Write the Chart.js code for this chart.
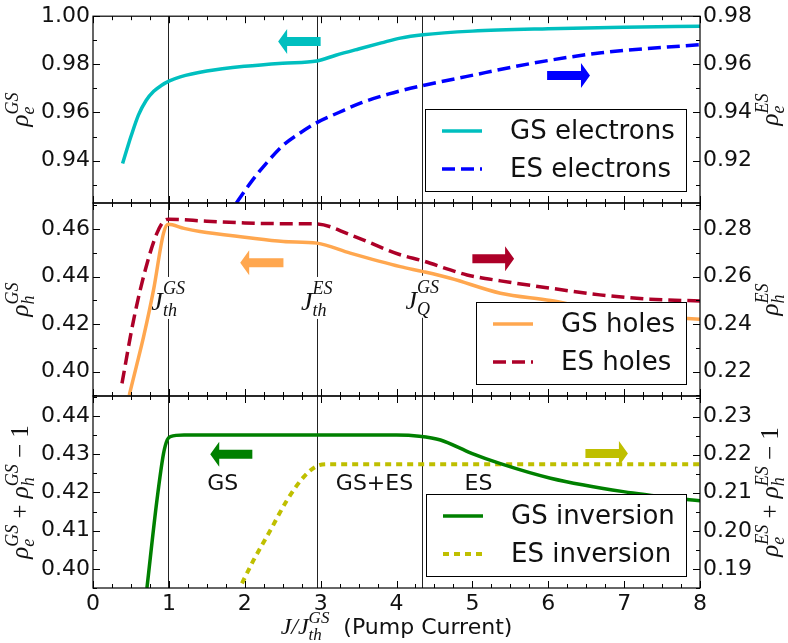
<!DOCTYPE html>
<html><head><meta charset="utf-8">
<script src="https://cdn.jsdelivr.net/npm/chart.js@4.4.1/dist/chart.umd.min.js"></script>
<style>
html,body{margin:0;padding:0;background:#fff;}
#wrap{position:relative;width:788px;height:643px;overflow:hidden;background:#fff;}
#wrap canvas{position:absolute;left:0;top:0;}
</style></head>
<body><div id="wrap">
<canvas id="cTop" width="788" height="643"></canvas>
<canvas id="cMid" width="788" height="643"></canvas>
<canvas id="cBot" width="788" height="643"></canvas>
</div>
<script>
// ---------------- DATA ----------------
const xTickValues = [0, 1, 2, 3, 4, 5, 6, 7, 8];
const thresholdX = [0.99, 2.95, 4.34];

const gsElectronsX = [0.39, 0.45, 0.5, 0.6, 0.7, 0.8, 0.9, 1.0, 1.15, 1.5, 2.0, 2.5, 2.95, 3.2, 3.5, 3.8, 4.05, 4.35, 5.0, 6.0, 7.0, 8.0];
const gsElectronsY = [0.9388, 0.9450, 0.9500, 0.9590, 0.9650, 0.9688, 0.9712, 0.9730, 0.9748, 0.9772, 0.9792, 0.9805, 0.9814, 0.9838, 0.9864, 0.9889, 0.9909, 0.9923, 0.9938, 0.9948, 0.9954, 0.9958];

const esElectronsX = [1.89, 2.1, 2.3, 2.5, 2.73, 2.95, 3.24, 3.54, 3.89, 4.05, 4.35, 4.93, 5.8, 6.7, 8.0];
const esElectronsY = [0.9024, 0.9118, 0.9195, 0.9262, 0.9315, 0.9358, 0.9400, 0.9441, 0.9476, 0.9490, 0.9512, 0.9550, 0.9605, 0.9648, 0.9682];

const gsHolesX = [0.478, 0.57, 0.667, 0.798, 0.93, 0.99, 1.2, 1.41, 2.0, 2.51, 2.95, 3.39, 4.05, 4.35, 4.71, 5.37, 6.03, 6.5, 7.0, 7.5, 8.0];
const gsHolesY = [0.3901, 0.4020, 0.4147, 0.4344, 0.4583, 0.4620, 0.4603, 0.4590, 0.4566, 0.4548, 0.4541, 0.4499, 0.4442, 0.4421, 0.4393, 0.4330, 0.4299, 0.4270, 0.4247, 0.4232, 0.4220];

const esHolesX = [0.382, 0.535, 0.689, 0.843, 0.953, 1.0, 1.5, 2.0, 2.5, 2.95, 3.39, 4.05, 4.35, 4.71, 4.93, 5.37, 6.03, 6.68, 7.34, 8.0];
const esHolesY = [0.2150, 0.2417, 0.2628, 0.2783, 0.2839, 0.2842, 0.2833, 0.2826, 0.2823, 0.2822, 0.2776, 0.2692, 0.2666, 0.2628, 0.2607, 0.2582, 0.2551, 0.2523, 0.2505, 0.2497];

const gsInversionX = [0.711, 0.843, 0.93, 0.98, 1.02, 1.2, 2.0, 3.0, 4.0, 4.3, 4.58, 4.99, 5.37, 6.03, 6.99, 8.0];
const gsInversionY = [0.3950, 0.4180, 0.4302, 0.4338, 0.4346, 0.4350, 0.4350, 0.4350, 0.4350, 0.4347, 0.4337, 0.4302, 0.4275, 0.4237, 0.4202, 0.4178];

const esInversionX = [1.963, 2.116, 2.336, 2.556, 2.775, 2.95, 3.1, 4.0, 6.0, 8.0];
const esInversionY = [0.1862, 0.1923, 0.2001, 0.2080, 0.2141, 0.2170, 0.2175, 0.2175, 0.2175, 0.2175];

const topLeftTicks = [0.94, 0.96, 0.98, 1.00];
const topRightTicks = [0.92, 0.94, 0.96, 0.98];
const midLeftTicks = [0.40, 0.42, 0.44, 0.46];
const midRightTicks = [0.22, 0.24, 0.26, 0.28];
const botLeftTicks = [0.40, 0.41, 0.42, 0.43, 0.44];
const botRightTicks = [0.19, 0.20, 0.21, 0.22, 0.23];

const seriesLabels = ['GS electrons', 'ES electrons', 'GS holes', 'ES holes', 'GS inversion', 'ES inversion'];
const regionLabels = ['GS', 'GS+ES', 'ES'];
const regionLabelX = [1.71, 3.71, 5.08];
const regionLabelY = 0.4222;

// ---------------- STYLE ----------------
const SANS = '"DejaVu Sans", sans-serif';
const SERIF = '"Liberation Serif", "DejaVu Serif", serif';
const TXT = '#111';
const C = {cyan:'#00bfbf', blue:'#0000ff', orange:'#ffa74f', crimson:'#ad0028', green:'#008000', olive:'#bfbf00'};
const W = 788, H = 643;

function pts(xs, ys) { return xs.map((x, i) => ({x: x, y: ys[i]})); }

// ---- simple math text layout (base + sub/sup) ----
function layoutMath(ctx, items, size) {
  let w = 0; const segs = [];
  const ss = Math.round(size * 0.7);
  for (const it of items) {
    const sz = it.sz || size;
    const f = it.sans ? (sz + 'px ' + SANS) : ((it.roman ? '' : 'italic ') + sz + 'px ' + SERIF);
    ctx.font = f;
    const bw = ctx.measureText(it.t).width;
    segs.push({text: it.t, font: f, x: w, dy: 0});
    w += bw;
    let sw = 0;
    const sf = 'italic ' + ss + 'px ' + SERIF;
    if (it.sub) { ctx.font = sf; const ww = ctx.measureText(it.sub).width; segs.push({text: it.sub, font: sf, x: w, dy: size * 0.24}); sw = Math.max(sw, ww); }
    if (it.sup) { ctx.font = sf; const ww = ctx.measureText(it.sup).width; const sx = it.supShift || 0; segs.push({text: it.sup, font: sf, x: w + sx, dy: -size * (it.supUp || 0.42)}); sw = Math.max(sw, ww + sx); }
    w += sw + (it.gap || 0);
  }
  return {w, segs};
}
function drawMath(ctx, items, size, cx, by, rot) {
  const L = layoutMath(ctx, items, size);
  ctx.save();
  ctx.translate(cx, by);
  if (rot) ctx.rotate(rot);
  ctx.fillStyle = TXT; ctx.textBaseline = 'alphabetic'; ctx.textAlign = 'left';
  for (const s of L.segs) { ctx.font = s.font; ctx.fillText(s.text, s.x - L.w / 2, s.dy); }
  ctx.restore();
  return L.w;
}

function drawArrow(ctx, xt, xh, y, color) {
  const dir = Math.sign(xh - xt);
  const headLen = 9, shaftH = 4.5, headH = 12.5;
  const xb = xh - dir * headLen;
  ctx.save();
  ctx.fillStyle = color;
  ctx.beginPath();
  ctx.moveTo(xt, y - shaftH); ctx.lineTo(xb, y - shaftH); ctx.lineTo(xb, y - headH);
  ctx.lineTo(xh, y); ctx.lineTo(xb, y + headH); ctx.lineTo(xb, y + shaftH); ctx.lineTo(xt, y + shaftH);
  ctx.closePath(); ctx.fill();
  ctx.restore();
}

const MARK_SIZE = 26;

const decor = {
  id: 'decor',
  beforeDatasetsDraw(chart, args, p) {
    const {ctx, chartArea: a, scales} = chart;
    const sx = scales.x;
    // threshold vertical lines
    ctx.save();
    ctx.strokeStyle = '#222'; ctx.lineWidth = 1;
    ctx.beginPath();
    for (const v of thresholdX) {
      const px = Math.round(sx.getPixelForValue(v)) + 0.5;
      ctx.moveTo(px, a.top); ctx.lineTo(px, a.bottom);
    }
    ctx.stroke();
    ctx.restore();
    // threshold labels with white box (below the curves)
    for (const m of (p.marks || [])) {
      const cx = sx.getPixelForValue(m.x);
      const cy = scales.yL.getPixelForValue(m.y);
      const L = layoutMath(ctx, m.items, MARK_SIZE);
      ctx.save(); ctx.fillStyle = '#fff';
      ctx.fillRect(cx - L.w / 2 - 2, cy - 21, L.w + 4, 42);
      ctx.restore();
      drawMath(ctx, m.items, MARK_SIZE, cx, cy + 12, 0);
    }
  },
  afterDatasetsDraw(chart, args, p) {
    const {ctx, chartArea: a, scales} = chart;
    const sx = scales.x;
    // arrows (data coordinates)
    for (const ar of (p.arrows || [])) {
      const ys = scales[ar.axis];
      drawArrow(ctx, sx.getPixelForValue(ar.x0), sx.getPixelForValue(ar.x1), ys.getPixelForValue(ar.y), ar.color);
    }
    // region labels
    if (p.regions) {
      ctx.save(); ctx.fillStyle = TXT; ctx.font = '22px ' + SANS; ctx.textAlign = 'center'; ctx.textBaseline = 'middle';
      regionLabels.forEach((t, i) => ctx.fillText(t, sx.getPixelForValue(regionLabelX[i]), scales.yL.getPixelForValue(regionLabelY)));
      ctx.restore();
    }
    // legend
    {
      const ds = chart.data.datasets;
      ctx.save();
      ctx.font = '26px ' + SANS;
      const tw = Math.max(...ds.map(d => ctx.measureText(d.label).width));
      const w = 85 + tw + 11, h = 82;
      const x1 = a.right - 14, x0 = Math.round(x1 - w), y1 = a.bottom - 12, y0 = y1 - h;
      ctx.fillStyle = '#fff'; ctx.fillRect(x0, y0, x1 - x0, h);
      ctx.strokeStyle = '#000'; ctx.lineWidth = 1; ctx.strokeRect(x0 + 0.5, y0 + 0.5, x1 - x0, h);
      ds.forEach((d, i) => {
        const yy = y0 + (i ? 60 : 22);
        ctx.save();
        ctx.strokeStyle = d.borderColor; ctx.lineWidth = d.borderWidth; ctx.setLineDash(d.borderDash || []);
        ctx.beginPath(); ctx.moveTo(x0 + 17, yy); ctx.lineTo(x0 + 57, yy); ctx.stroke();
        ctx.restore();
        ctx.fillStyle = TXT; ctx.textBaseline = 'middle'; ctx.textAlign = 'left';
        ctx.fillText(d.label, x0 + 85, yy + 1);
      });
      ctx.restore();
    }
    // frame
    ctx.save();
    ctx.strokeStyle = '#000'; ctx.lineWidth = 1.2;
    ctx.strokeRect(a.left, a.top, a.right - a.left, a.bottom - a.top);
    // inward ticks
    ctx.lineWidth = 1;
    ctx.beginPath();
    for (let k = 0; k <= 32; k++) {
      const v = k * 0.25;
      const len = (k % 4 === 0) ? 7 : 4;
      const px = Math.round(sx.getPixelForValue(v)) + 0.5;
      ctx.moveTo(px, a.bottom); ctx.lineTo(px, a.bottom - len);
      ctx.moveTo(px, a.top); ctx.lineTo(px, a.top + len);
    }
    const yt = (scale, majors, step, left) => {
      const k0 = Math.ceil(scale.min / step - 1e-6), k1 = Math.floor(scale.max / step + 1e-6);
      for (let k = k0; k <= k1; k++) {
        const v = k * step;
        const major = majors.some(m => Math.abs(m - v) < step * 0.05);
        const len = major ? 7 : 4;
        const py = Math.round(scale.getPixelForValue(v)) + 0.5;
        if (left) { ctx.moveTo(a.left, py); ctx.lineTo(a.left + len, py); }
        else { ctx.moveTo(a.right, py); ctx.lineTo(a.right - len, py); }
      }
    };
    yt(scales.yL, p.left.ticks, p.left.minor, true);
    yt(scales.yR, p.right.ticks, p.right.minor, false);
    ctx.stroke();
    ctx.restore();
    // axis titles
    const cy = (a.top + a.bottom) / 2;
    drawMath(ctx, p.titleL, 25, 28, cy, -Math.PI / 2);
    drawMath(ctx, p.titleR, 25, 778, cy, -Math.PI / 2);
    if (p.showX) {
      drawMath(ctx, [{t:'J'}, {t:'/'}, {t:'J', sub:'th', sup:'GS', supUp:0.45}, {t:'  (Pump Current)', sans:true, sz:22}], 24, (a.left + a.right) / 2, 634, 0);
    }
  }
};

function makeChart(p) {
  const tickFont = {family: SANS, size: 22};
  const yScale = (cfg, pos) => ({
    type: 'linear', position: pos, min: cfg.min, max: cfg.max,
    afterBuildTicks: s => { s.ticks = cfg.ticks.map(v => ({value: v})); },
    afterFit: s => { s.width = pos === 'left' ? 93 : 88; },
    grid: {display: false, drawTicks: false},
    border: {display: false},
    ticks: {font: tickFont, color: TXT, padding: 3, callback: v => Number(v).toFixed(2)}
  });
  return new Chart(document.getElementById(p.id), {
    type: 'line',
    data: {datasets: p.datasets.map(d => Object.assign({
      fill: false, pointRadius: 0, borderWidth: 3.5, borderCapStyle: 'butt', borderJoinStyle: 'round', cubicInterpolationMode: 'monotone'
    }, d))},
    options: {
      responsive: false, animation: false, devicePixelRatio: 1, events: [],
      layout: {padding: {top: p.top, bottom: p.showX ? 0 : H - p.bottom, left: 0, right: 0}},
      plugins: {legend: {display: false}, tooltip: {enabled: false}, decor: p},
      scales: {
        x: {
          type: 'linear', min: 0, max: 8, display: p.showX,
          afterBuildTicks: s => { s.ticks = xTickValues.map(v => ({value: v})); },
          afterFit: s => { s.height = p.showX ? H - p.bottom : 0; },
          grid: {display: false, drawTicks: false}, border: {display: false},
          ticks: {font: tickFont, color: TXT, padding: 3, maxRotation: 0, autoSkip: false, callback: v => String(v)}
        },
        yL: yScale(p.left, 'left'),
        yR: yScale(p.right, 'right')
      }
    },
    plugins: [decor]
  });
}

const panels = [
  {
    id: 'cTop', top: 13, bottom: 203, showX: false,
    left: {min: 0.9224, max: 1.0, ticks: topLeftTicks, minor: 0.01},
    right: {min: 0.9024, max: 0.98, ticks: topRightTicks, minor: 0.01},
    datasets: [
      {label: seriesLabels[0], data: pts(gsElectronsX, gsElectronsY), yAxisID: 'yL', borderColor: C.cyan},
      {label: seriesLabels[1], data: pts(esElectronsX, esElectronsY), yAxisID: 'yR', borderColor: C.blue, borderDash: [13, 6]}
    ],
    arrows: [
      {axis: 'yL', x0: 3.0, x1: 2.44, y: 0.9895, color: C.cyan},
      {axis: 'yR', x0: 5.985, x1: 6.55, y: 0.9554, color: C.blue}
    ],
    titleL: [{t:'ρ', sub:'e', sup:'GS'}],
    titleR: [{t:'ρ', sub:'e', sup:'ES'}]
  },
  {
    id: 'cMid', top: 203, bottom: 396, showX: false,
    left: {min: 0.3897, max: 0.471, ticks: midLeftTicks, minor: 0.01},
    right: {min: 0.2097, max: 0.291, ticks: midRightTicks, minor: 0.01},
    datasets: [
      {label: seriesLabels[2], data: pts(gsHolesX, gsHolesY), yAxisID: 'yL', borderColor: C.orange},
      {label: seriesLabels[3], data: pts(esHolesX, esHolesY), yAxisID: 'yR', borderColor: C.crimson, borderDash: [13, 6]}
    ],
    arrows: [
      {axis: 'yL', x0: 2.51, x1: 1.94, y: 0.4458, color: C.orange},
      {axis: 'yR', x0: 5.0, x1: 5.55, y: 0.2675, color: C.crimson}
    ],
    marks: [
      {x: thresholdX[0], y: 0.431, items: [{t:'J', sub:'th', sup:'GS', supUp:0.6}]},
      {x: thresholdX[1], y: 0.431, items: [{t:'J', sub:'th', sup:'ES', supUp:0.6}]},
      {x: thresholdX[2], y: 0.4315, items: [{t:'J', sub:'Q', sup:'GS', supUp:0.6}]}
    ],
    titleL: [{t:'ρ', sub:'h', sup:'GS'}],
    titleR: [{t:'ρ', sub:'h', sup:'ES'}]
  },
  {
    id: 'cBot', top: 396, bottom: 588, showX: true,
    left: {min: 0.395, max: 0.4452, ticks: botLeftTicks, minor: 0.005},
    right: {min: 0.185, max: 0.2354, ticks: botRightTicks, minor: 0.005},
    datasets: [
      {label: seriesLabels[4], data: pts(gsInversionX, gsInversionY), yAxisID: 'yL', borderColor: C.green},
      {label: seriesLabels[5], data: pts(esInversionX, esInversionY), yAxisID: 'yR', borderColor: C.olive, borderDash: [6, 5], borderWidth: 4}
    ],
    arrows: [
      {axis: 'yL', x0: 2.10, x1: 1.545, y: 0.430, color: C.green},
      {axis: 'yR', x0: 6.49, x1: 7.05, y: 0.2203, color: C.olive}
    ],
    regions: true,
    titleL: [{t:'ρ', sub:'e', sup:'GS'}, {t:' + ', roman:true}, {t:'ρ', sub:'h', sup:'GS'}, {t:' − 1', roman:true}],
    titleR: [{t:'ρ', sub:'e', sup:'ES'}, {t:' + ', roman:true}, {t:'ρ', sub:'h', sup:'ES'}, {t:' − 1', roman:true}]
  }
];

panels.forEach(makeChart);
</script>
</body></html>
